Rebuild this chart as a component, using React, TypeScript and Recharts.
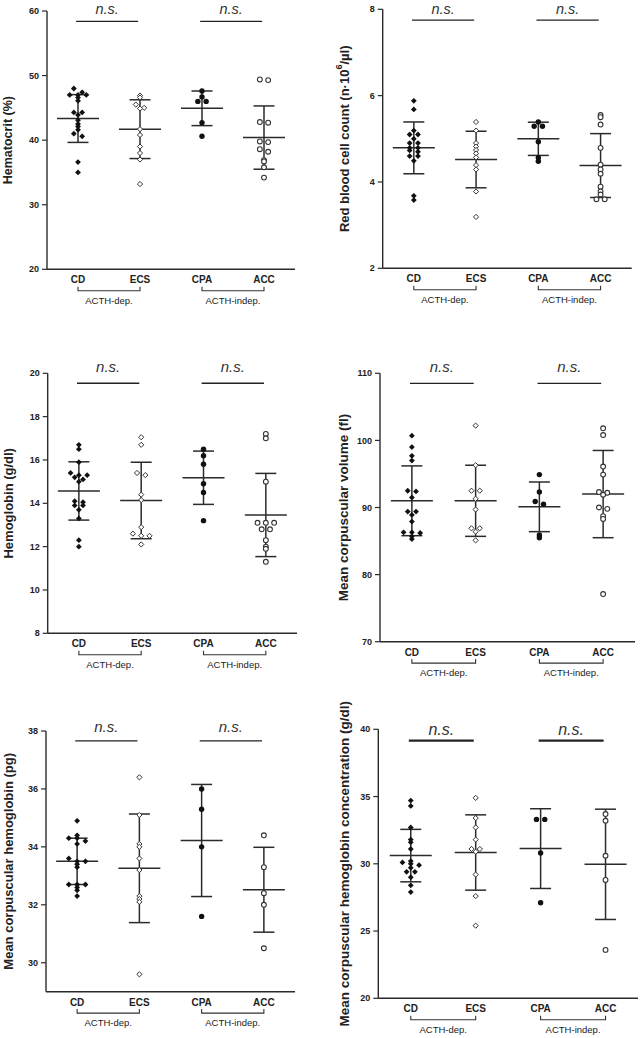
import React from 'react';
import { ScatterChart, Scatter, XAxis, YAxis, ReferenceLine } from 'recharts';

// ---------- categories / labels ----------
const GROUPS = ['CD', 'ECS', 'CPA', 'ACC'];
const GROUP_POS = [1, 2, 3, 4];
const BRACKET_LABELS = ['ACTH-dep.', 'ACTH-indep.'];
const NS_TEXT = 'n.s.';

// ---------- Hematocrit (%) ----------
const hctCD = [48.0, 47.4, 47.0, 47.0, 47.0, 46.6, 46.1, 44.3, 44.3, 43.9, 43.1, 42.5, 42.1, 41.6, 41.0, 40.6, 36.6, 35.0];
const hctECS = [46.9, 46.6, 45.5, 45.0, 44.9, 41.7, 40.8, 39.0, 38.0, 37.0, 33.2];
const hctCPA = [47.6, 46.7, 46.0, 46.0, 42.7, 40.6];
const hctACC = [49.4, 49.3, 42.8, 42.7, 39.8, 39.7, 38.6, 38.2, 36.9, 36.7, 35.8, 34.2];
const hctMean = [43.35, 41.7, 44.93, 40.4];
const hctSD = [3.7, 4.55, 2.68, 4.9];
const hctTicks = [20, 30, 40, 50, 60];

// ---------- Red blood cell count ----------
const rbcCD = [5.88, 5.68, 5.19, 5.10, 5.10, 5.00, 4.90, 4.90, 4.79, 4.79, 4.73, 4.70, 4.60, 4.60, 4.49, 3.68, 3.58];
const rbcECS = [5.39, 5.19, 4.90, 4.82, 4.74, 4.66, 4.57, 4.39, 4.29, 3.78, 3.19];
const rbcCPA = [5.39, 5.29, 5.29, 4.93, 4.56, 4.48];
const rbcACC = [5.55, 5.50, 5.33, 4.79, 4.40, 4.29, 4.19, 3.89, 3.78, 3.71, 3.60, 3.60];
const rbcMean = [4.79, 4.52, 5.0, 4.38];
const rbcSD = [0.6, 0.655, 0.385, 0.74];
const rbcTicks = [2, 4, 6, 8];

// ---------- Hemoglobin (g/dl) ----------
const hbCD = [16.7, 16.5, 15.9, 15.4, 15.3, 15.3, 15.2, 15.1, 15.0, 14.1, 14.05, 13.9, 13.9, 13.7, 13.3, 12.3, 12.0];
const hbECS = [17.05, 16.7, 15.4, 15.3, 14.4, 14.15, 12.9, 12.6, 12.5, 12.5, 12.1];
const hbCPA = [16.5, 16.2, 15.8, 14.9, 14.5, 13.2];
const hbACC = [17.2, 17.0, 15.0, 13.1, 13.1, 13.1, 12.8, 12.8, 12.3, 12.0, 11.9, 11.3];
const hbMean = [14.57, 14.13, 15.18, 13.46];
const hbSD = [1.345, 1.765, 1.23, 1.92];
const hbTicks = [8, 10, 12, 14, 16, 18, 20];

// ---------- Mean corpuscular volume (fl) ----------
const mcvCD = [100.7, 99.0, 97.7, 97.0, 92.5, 92.4, 91.5, 89.4, 89.4, 88.9, 87.9, 86.3, 86.2, 86.3, 85.7, 85.3];
const mcvECS = [102.2, 96.3, 92.5, 92.5, 91.3, 89.7, 86.9, 86.9, 86.4, 85.1];
const mcvCPA = [94.9, 92.3, 90.9, 90.5, 85.9, 85.5];
const mcvACC = [101.8, 100.8, 96.1, 94.9, 92.3, 92.2, 91.9, 90.0, 89.8, 88.7, 88.3, 77.1];
const mcvMean = [91.0, 91.0, 90.1, 92.0];
const mcvSD = [5.2, 5.3, 3.7, 6.5];
const mcvTicks = [70, 80, 90, 100, 110];

// ---------- Mean corpuscular hemoglobin (pg) ----------
const mchCD = [34.9, 34.4, 34.3, 34.3, 34.2, 34.1, 33.6, 33.5, 33.5, 33.4, 33.3, 32.7, 32.7, 32.7, 32.6, 32.5, 32.3];
const mchECS = [36.4, 35.1, 34.1, 34.0, 33.6, 33.2, 32.3, 32.2, 32.1, 29.6];
const mchCPA = [36.0, 35.3, 34.0, 31.6];
const mchACC = [34.4, 33.3, 32.4, 32.0, 30.5];
const mchMean = [33.5, 33.26, 34.22, 32.52];
const mchSD = [0.8, 1.875, 1.935, 1.465];
const mchTicks = [30, 32, 34, 36, 38];

// ---------- Mean corpuscular hemoglobin concentration (g/dl) ----------
const mchcCD = [34.7, 34.3, 32.7, 31.8, 31.6, 31.1, 30.2, 30.1, 30.0, 29.9, 29.7, 29.4, 29.4, 29.0, 28.4, 27.9];
const mchcECS = [34.9, 33.4, 32.7, 31.8, 31.1, 31.1, 30.9, 29.2, 27.6, 25.4];
const mchcCPA = [33.3, 33.3, 30.8, 27.1];
const mchcACC = [33.7, 33.2, 30.6, 28.8, 23.6];
const mchcMean = [30.61, 30.84, 31.13, 29.96];
const mchcSD = [1.95, 2.8, 2.965, 4.1];
const mchcTicks = [20, 25, 30, 35, 40];

// ---------- styling ----------
const AXIS = '#2b2b2b';
const BAR = '#2b2b2b';
const TXT = '#222';
const FONT = '"Liberation Sans", Arial, Helvetica, sans-serif';

type LabelPart = { t: string; sup?: boolean };
type Panel = {
  labelParts: LabelPart[];
  series: number[][];
  means: number[];
  sds: number[];
  domain: [number, number];
  ticks: number[];
  nsY: number;
  box: { x: number; y: number; w: number; h: number };
  plot: { l: number; t: number; r: number; b: number };
  labelSize: number;
  labelDist: number;
  nsOffset: number;
  nsSize: number;
  nsWidth: number;
};

const panels: Panel[] = [
  {
    labelParts: [{ t: 'Hematocrit (%)' }],
    series: [hctCD, hctECS, hctCPA, hctACC], means: hctMean, sds: hctSD,
    domain: [20, 60], ticks: hctTicks, nsY: 58.4,
    box: { x: 0, y: 0, w: 320, h: 340 }, plot: { l: 47, t: 11, r: 295, b: 269.3 },
    labelSize: 12.5, labelDist: 38.7, nsOffset: 7.5, nsSize: 14.5, nsWidth: 1.3,
  },
  {
    labelParts: [{ t: 'Red blood cell count (n·10' }, { t: '6', sup: true }, { t: '/µl)' }],
    series: [rbcCD, rbcECS, rbcCPA, rbcACC], means: rbcMean, sds: rbcSD,
    domain: [2, 8], ticks: rbcTicks, nsY: 7.75,
    box: { x: 320, y: 0, w: 321, h: 340 }, plot: { l: 382.7, t: 9.3, r: 631.7, b: 268.3 },
    labelSize: 13, labelDist: 38.7, nsOffset: 6.5, nsSize: 14.5, nsWidth: 1.3,
  },
  {
    labelParts: [{ t: 'Hemoglobin (g/dl)' }],
    series: [hbCD, hbECS, hbCPA, hbACC], means: hbMean, sds: hbSD,
    domain: [8, 20], ticks: hbTicks, nsY: 19.54,
    box: { x: 0, y: 340, w: 320, h: 350 }, plot: { l: 47.7, t: 373.3, r: 297, b: 633.3 },
    labelSize: 13, labelDist: 39.4, nsOffset: 11, nsSize: 15, nsWidth: 1.3,
  },
  {
    labelParts: [{ t: 'Mean corpuscular volume (fl)' }],
    series: [mcvCD, mcvECS, mcvCPA, mcvACC], means: mcvMean, sds: mcvSD,
    domain: [70, 110], ticks: mcvTicks, nsY: 108.5,
    box: { x: 320, y: 340, w: 321, h: 350 }, plot: { l: 380, t: 373.3, r: 635, b: 641.7 },
    labelSize: 13.5, labelDist: 37.5, nsOffset: 11, nsSize: 15, nsWidth: 1.3,
  },
  {
    labelParts: [{ t: 'Mean corpuscular hemoglobin (pg)' }],
    series: [mchCD, mchECS, mchCPA, mchACC], means: mchMean, sds: mchSD,
    domain: [29, 38], ticks: mchTicks, nsY: 37.66,
    box: { x: 0, y: 690, w: 320, h: 348 }, plot: { l: 46, t: 731, r: 295, b: 991.7 },
    labelSize: 13, labelDist: 37.7, nsOffset: 9, nsSize: 15, nsWidth: 1.3,
  },
  {
    labelParts: [{ t: 'Mean corpuscular hemoglobin concentration (g/dl)' }],
    series: [mchcCD, mchcECS, mchcCPA, mchcACC], means: mchcMean, sds: mchcSD,
    domain: [20, 40], ticks: mchcTicks, nsY: 39.16,
    box: { x: 320, y: 690, w: 321, h: 348 }, plot: { l: 378.3, t: 729.3, r: 638, b: 998.3 },
    labelSize: 13.5, labelDist: 34.3, nsOffset: 6, nsSize: 16, nsWidth: 2.2,
  },
];

// beeswarm-like layout: points in the same vertical bin are spread sideways
function swarmOffsets(values: number[], pxPerUnit: number, stepPx: number, binPx: number): number[] {
  const bins = new Map<number, number[]>();
  values.forEach((v, i) => {
    const b = Math.round((v * pxPerUnit) / binPx);
    if (!bins.has(b)) bins.set(b, []);
    bins.get(b)!.push(i);
  });
  const out = new Array(values.length).fill(0);
  bins.forEach((idxs) => {
    idxs.sort((a, b) => values[b] - values[a]);
    const n = idxs.length;
    idxs.forEach((idx, k) => {
      out[idx] = (k - (n - 1) / 2) * stepPx;
    });
  });
  return out;
}

const markerShape = (kind: number) => (sp: any) => {
  const { cx, cy } = sp;
  if (cx == null || cy == null) return <g />;
  if (kind === 0) {
    const h = 2.9;
    return <path d={`M${cx},${cy - h}L${cx + h},${cy}L${cx},${cy + h}L${cx - h},${cy}Z`} fill="#111" />;
  }
  if (kind === 1) {
    const h = 2.6;
    return <path d={`M${cx},${cy - h}L${cx + h},${cy}L${cx},${cy + h}L${cx - h},${cy}Z`} fill="#fff" stroke="#333" strokeWidth={1} />;
  }
  if (kind === 2) return <circle cx={cx} cy={cy} r={2.7} fill="#111" />;
  return <circle cx={cx} cy={cy} r={2.4} fill="#fff" stroke="#333" strokeWidth={1.1} />;
};

function CatTick(props: any) {
  const { x, y, payload, unitPx } = props;
  const v = Number(payload?.value);
  const name = GROUPS[v - 1] ?? '';
  const isFirst = v % 2 === 1;
  return (
    <g>
      <text x={x} y={y} dy="0.71em" textAnchor="middle" fontSize={10} fontWeight={700} fill={TXT}>
        {name}
      </text>
      {isFirst && (
        <g>
          <path
            d={`M${x},${y + 10.4}V${y + 14.4}H${x + unitPx}V${y + 10.4}`}
            fill="none"
            stroke="#333"
            strokeWidth={1.1}
          />
          <text x={x + unitPx / 2} y={y + 27.2} textAnchor="middle" fontSize={9.5} fill={TXT}>
            {BRACKET_LABELS[(v - 1) / 2]}
          </text>
        </g>
      )}
    </g>
  );
}

function DotPanel({ p }: { p: Panel }) {
  const unitPx = (p.plot.r - p.plot.l) / 4;
  const pxPerUnit = (p.plot.b - p.plot.t) / (p.domain[1] - p.domain[0]);
  const yAxisW = p.plot.l - p.box.x;
  const mTop = p.plot.t - p.box.y;
  const mRight = p.box.x + p.box.w - p.plot.r;
  const xAxisH = 36;
  const mBottom = p.box.y + p.box.h - p.plot.b - xAxisH;
  const meanHalf = 21 / unitPx;
  const capHalf = 10.5 / unitPx;

  const lcx = p.plot.l - p.box.x - p.labelDist;
  const lcy = (p.plot.t + p.plot.b) / 2 - p.box.y;

  const yLabel = () => (
    <text
      x={lcx}
      y={lcy}
      transform={`rotate(-90, ${lcx}, ${lcy})`}
      textAnchor="middle"
      dominantBaseline="central"
      fontSize={p.labelSize}
      fontWeight={700}
      fill={TXT}
    >
      {p.labelParts.map((lp, i) =>
        lp.sup ? (
          <tspan key={i} dy={-5} fontSize={p.labelSize * 0.7}>{lp.t}</tspan>
        ) : (
          <tspan key={i} dy={i > 0 && p.labelParts[i - 1].sup ? 5 : 0}>{lp.t}</tspan>
        ),
      )}
    </text>
  );

  const seriesData = p.series.map((vals, gi) => {
    const offs = swarmOffsets(vals, pxPerUnit, 8.3, 4);
    return vals.map((v, i) => ({ x: GROUP_POS[gi] + offs[i] / unitPx, y: v }));
  });

  const barLines: React.ReactElement[] = [];
  p.means.forEach((m, i) => {
    const cx = GROUP_POS[i];
    const sd = p.sds[i];
    const common = { xAxisId: 'cat', stroke: BAR, strokeWidth: 1.5, ifOverflow: 'visible' as const };
    barLines.push(<ReferenceLine key={`m${i}`} {...common} segment={[{ x: cx - meanHalf, y: m }, { x: cx + meanHalf, y: m }]} />);
    barLines.push(<ReferenceLine key={`v${i}`} {...common} segment={[{ x: cx, y: m - sd }, { x: cx, y: m + sd }]} />);
    barLines.push(<ReferenceLine key={`u${i}`} {...common} segment={[{ x: cx - capHalf, y: m + sd }, { x: cx + capHalf, y: m + sd }]} />);
    barLines.push(<ReferenceLine key={`l${i}`} {...common} segment={[{ x: cx - capHalf, y: m - sd }, { x: cx + capHalf, y: m - sd }]} />);
  });

  const nsLines = [0, 2].map((gi) => (
    <ReferenceLine
      key={`ns${gi}`}
      xAxisId="cat"
      ifOverflow="visible"
      stroke="#222"
      strokeWidth={p.nsWidth}
      segment={[
        { x: GROUP_POS[gi] - 0.03, y: p.nsY },
        { x: GROUP_POS[gi + 1] - 0.03, y: p.nsY },
      ]}
      label={{
        value: NS_TEXT,
        position: 'top',
        offset: p.nsOffset,
        fontSize: p.nsSize,
        fontStyle: 'italic',
        fill: '#333',
      }}
    />
  ));

  return (
    <div style={{ position: 'absolute', left: p.box.x, top: p.box.y }}>
      <ScatterChart
        width={p.box.w}
        height={p.box.h}
        margin={{ top: mTop, right: mRight, bottom: mBottom, left: 0 }}
      >
        <XAxis
          xAxisId="cat"
          type="number"
          dataKey="x"
          domain={[0.5, 4.5]}
          ticks={GROUP_POS}
          interval={0}
          allowDataOverflow
          tickLine={false}
          tickSize={5}
          tickMargin={2}
          height={xAxisH}
          axisLine={{ stroke: AXIS, strokeWidth: 1.4 }}
          tick={(tp: any) => <CatTick {...tp} unitPx={unitPx} />}
        />
        <YAxis
          type="number"
          dataKey="y"
          domain={p.domain}
          ticks={p.ticks}
          interval={0}
          allowDataOverflow
          width={yAxisW}
          tickSize={5}
          tickMargin={3}
          axisLine={{ stroke: AXIS, strokeWidth: 1.4 }}
          tickLine={{ stroke: AXIS, strokeWidth: 1.2 }}
          tick={{ fontSize: 9, fontWeight: 700, fill: TXT }}
          label={yLabel}
        />
        {barLines}
        {nsLines}
        {seriesData.map((d, gi) => (
          <Scatter
            key={GROUPS[gi]}
            name={GROUPS[gi]}
            xAxisId="cat"
            data={d}
            shape={markerShape(gi)}
            isAnimationActive={false}
          />
        ))}
      </ScatterChart>
    </div>
  );
}

export default function App() {
  return (
    <div
      style={{
        position: 'absolute',
        left: 0,
        top: 0,
        width: 641,
        height: 1038,
        background: '#fff',
        fontFamily: FONT,
      }}
    >
      {panels.map((p, i) => (
        <DotPanel key={i} p={p} />
      ))}
    </div>
  );
}
